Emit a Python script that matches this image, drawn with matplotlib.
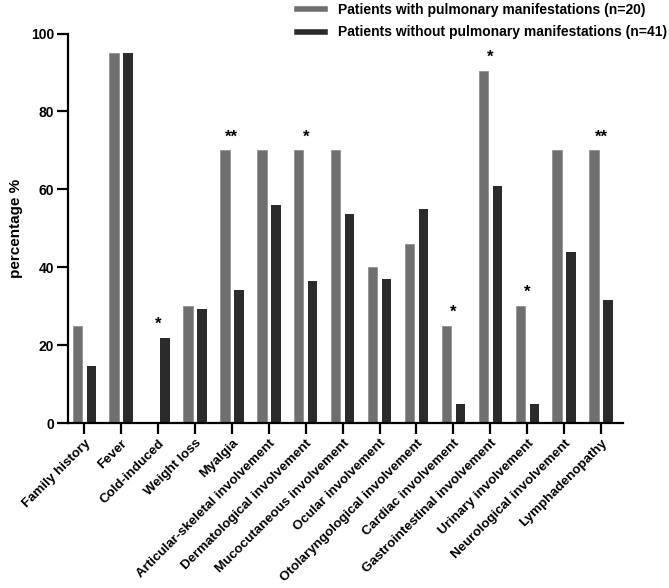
import matplotlib
matplotlib.use("Agg")
import matplotlib.pyplot as plt
from matplotlib.lines import Line2D
import numpy as np

categories = ["Family history", "Fever", "Cold-induced", "Weight loss", "Myalgia",
              "Articular-skeletal involvement", "Dermatological involvement",
              "Mucocutaneous involvement", "Ocular involvement",
              "Otolaryngological involvement", "Cardiac involvement",
              "Gastrointestinal involvement", "Urinary involvement",
              "Neurological involvement", "Lymphadenopathy"]
with_pulm = [25, 95, 0, 30, 70, 70, 70, 70, 40, 46, 25, 90.5, 30, 70, 70]
without_pulm = [14.6, 95.1, 22.0, 29.3, 34.1, 56.1, 36.6, 53.7, 37.1, 55.1, 4.9, 61.0, 4.9, 43.9, 31.7]
signif = ["", "", "*", "", "**", "", "*", "", "", "", "*", "*", "*", "", "**"]
labels = ["Patients with pulmonary manifestations (n=20)",
          "Patients without pulmonary manifestations (n=41)"]

plt.rcParams['font.family'] = ['Liberation Sans', 'DejaVu Sans']
plt.rcParams['font.weight'] = 'bold'

c_with = '#6f6f6f'
c_without = '#2b2b2b'

fig = plt.figure(figsize=(6.69, 5.88), dpi=100)
ax = fig.add_axes([0.102, 0.280, 0.829, 0.663])

x = np.arange(len(categories))
w = 0.255
ax.bar(x - 0.19, with_pulm, w, color=c_with, edgecolor='#8a8a8a', linewidth=0.5)
ax.bar(x + 0.19, without_pulm, w, color=c_without)

# significance marks above each group
for i, s in enumerate(signif):
    if s:
        top = max(with_pulm[i], without_pulm[i])
        ax.text(x[i], top + 3.5, s, ha='center', va='center', fontsize=12, fontweight='bold')

ax.set_xlim(-0.434, 14.59)
ax.set_ylim(0, 100)
ax.set_yticks([0, 20, 40, 60, 80, 100])
ax.set_xticks(x)
ax.set_xticklabels(categories, rotation=45, ha='right', rotation_mode='anchor',
                   fontsize=9.6, fontweight='bold')
ax.set_ylabel('percentage %', fontsize=11, fontweight='bold', labelpad=6)
for lab in ax.get_yticklabels():
    lab.set_fontweight('bold')
    lab.set_fontsize(10)

for side in ['top', 'right']:
    ax.spines[side].set_visible(False)
for side in ['left', 'bottom']:
    ax.spines[side].set_linewidth(1.6)
ax.tick_params(axis='both', width=1.6, length=8, pad=2)

handles = [Line2D([0], [0], color=c_with, lw=4),
           Line2D([0], [0], color=c_without, lw=4)]
fig.legend(handles, labels, loc='upper left', bbox_to_anchor=(0.425, 1.016),
           frameon=False, handlelength=2.0, handletextpad=1.0,
           labelspacing=0.6, prop={'weight': 'bold', 'size': 10})

plt.savefig('out.png', dpi=100)
